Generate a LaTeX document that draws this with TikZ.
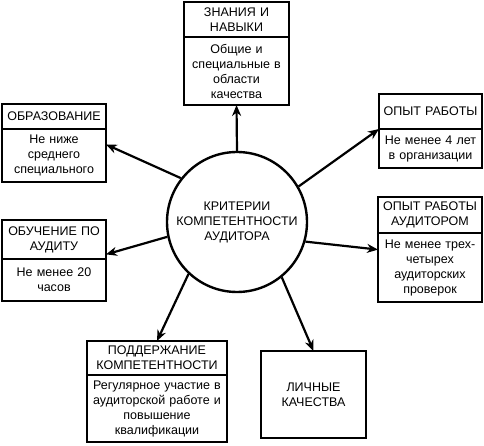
\documentclass[tikz,border=0pt]{standalone}
\usepackage{fontspec}
\setmainfont{Liberation Sans}
\usetikzlibrary{positioning,arrows.meta}

\tikzset{
  box/.style={draw,line width=1.6pt,outer sep=0pt,inner sep=2pt,align=center,
    font=\fontsize{12.5}{15}\selectfont},
  arr/.style={line width=2.2pt,-{Stealth[length=11pt,width=9pt]}}
}

\begin{document}
\begin{tikzpicture}[x=1pt,y=-1pt]
\useasboundingbox (0,0) rectangle (484,446);
\node[circle,draw,line width=2.4pt,minimum size=140pt,align=center,
  font=\fontsize{12.5}{15}\selectfont] (crit) at (237,222) {КРИТЕРИИ\\КОМПЕТЕНТНОСТИ\\АУДИТОРА};

% boxes round the circle
\node[box,anchor=north west,text width=101pt,minimum height=35pt] (knowh) at (184,2) {ЗНАНИЯ И\\НАВЫКИ};
\node[box,below=0pt of knowh,text width=101pt,minimum height=68pt] (knowb) {Общие и\\специальные в\\области\\качества};

\node[box,anchor=north west,text width=100pt,minimum height=25pt] (educh) at (2,104) {ОБРАЗОВАНИЕ};
\node[box,below=0pt of educh,text width=100pt,minimum height=53pt] (educb) {Не ниже\\среднего\\специального};

\node[box,anchor=north west,text width=99pt,minimum height=35pt] (workh) at (379,94) {ОПЫТ РАБОТЫ};
\node[box,below=0pt of workh,text width=99pt,minimum height=39pt] (workb) {Не менее 4 лет\\в организации};

\node[box,anchor=north west,text width=100pt,minimum height=39pt] (trainh) at (2,220) {ОБУЧЕНИЕ ПО\\АУДИТУ};
\node[box,below=0pt of trainh,text width=100pt,minimum height=42pt] (trainb) {Не менее 20\\часов};

\node[box,anchor=north west,text width=100pt,minimum height=36pt] (audh) at (378,197) {ОПЫТ РАБОТЫ\\АУДИТОРОМ};
\node[box,below=0pt of audh,text width=100pt,minimum height=69pt] (audb) {Не менее трех-\\четырех\\аудиторских\\проверок};

\node[box,anchor=north west,text width=136pt,minimum height=34pt] (supph) at (87,341) {ПОДДЕРЖАНИЕ\\КОМПЕТЕНТНОСТИ};
\node[box,below=0pt of supph,text width=136pt,minimum height=67pt] (suppb) {Регулярное участие в\\аудиторской работе и\\повышение\\квалификации};

\node[box,anchor=north west,text width=101pt,minimum height=87pt] (pers) at (261,351) {ЛИЧНЫЕ\\КАЧЕСТВА};

% arrows
\draw[arr] (crit.north) -- (knowb.south);
\draw[arr] (crit.142) -- (educb.12);
\draw[arr] (crit.30) -- (workb.north west);
\draw[arr] (crit.192) -- (trainh.-16);
\draw[arr] (crit.-16) -- (audb.161);
\draw[arr] (crit.227) -- (supph.north);
\draw[arr] (crit.-51) -- (pers.north);
\end{tikzpicture}
\end{document}
